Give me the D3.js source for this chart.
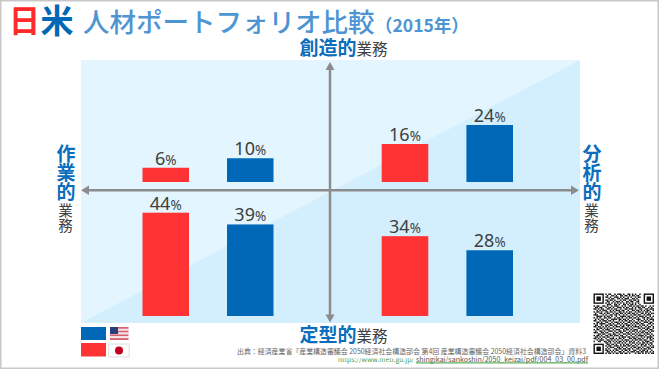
<!DOCTYPE html>
<html><head><meta charset="utf-8">
<script src="https://cdnjs.cloudflare.com/ajax/libs/d3/7.8.5/d3.min.js"></script>
<style>html,body{margin:0;padding:0;background:#fff}svg{display:block}
text{font-family:"Noto Sans CJK JP","Noto Sans",sans-serif}</style></head><body>
<svg id="c" width="660" height="370"></svg>
<script>
const sides = ["作業的", "分析的"];
const countries = ["日本", "米国"];
const creativeLeft = [6, 10];
const creativeRight = [16, 24];
const routineLeft = [44, 39];
const routineRight = [34, 28];
const tickSuffix = "%";
const RED="#ff3333", BLUE="#0068b7", GRAY="#8c8c8c", TEXT="#404040", LBL="#0a6ebd";
const svg=d3.select("#c");
svg.append("rect").attr("x",.75).attr("y",.75).attr("width",657.5).attr("height",367.5).attr("fill","#fff").attr("stroke","#c8c8c8").attr("stroke-width",1.5);
svg.append("rect").attr("x",81).attr("y",60).attr("width",499).attr("height",263).attr("fill","#e3f5fe");
svg.append("path").attr("d","M81,323L580,60V323Z").attr("fill","#d3effe");

const yUp=d3.scaleLinear().domain([0,24]).range([182,125]);
const yDown=d3.scaleLinear().domain([0,44]).range([316,212.7]);
const xL=d3.scaleBand().domain(countries).range([142.5,273.5]).paddingInner(0.45);
const xR=d3.scaleBand().domain(countries).range([381.7,513]).paddingInner(0.45);
const color=d3.scaleOrdinal().domain(countries).range([RED,BLUE]);
function bars(vals,x,y){
  const g=svg.append("g");
  countries.forEach((c,i)=>{
    const v=vals[i];
    g.append("rect").attr("x",x(c)).attr("y",y(v)).attr("width",x.bandwidth()).attr("height",y(0)-y(v)).attr("fill",color(c));
    const t=g.append("text").attr("x",x(c)+x.bandwidth()/2).attr("y",y(v)-3).attr("text-anchor","middle").attr("fill",TEXT).attr("font-size",18).style("font-family","'Noto Sans',sans-serif");
    t.append("tspan").text(v);
    t.append("tspan").attr("font-size",13.5).text(tickSuffix);
  });
}
bars(creativeLeft,xL,yUp);bars(creativeRight,xR,yUp);bars(routineLeft,xL,yDown);bars(routineRight,xR,yDown);

const ln=d3.line();
svg.append("path").attr("d",ln([[86,190.3],[575,190.3]])).attr("stroke",GRAY).attr("stroke-width",2.5);
svg.append("path").attr("d",ln([[330,66],[330,318]])).attr("stroke",GRAY).attr("stroke-width",2.5);
[[[81,190.3],[89,185.5],[89,195]],[[579,190.3],[571,185.5],[571,195]],[[330,62],[325.5,70],[334.5,70]],[[330,322.5],[325.5,314.5],[334.5,314.5]]]
 .forEach(p=>svg.append("path").attr("d",ln(p)+"Z").attr("fill",GRAY));

// title
svg.append("text").attr("x",9).attr("y",32).attr("font-size",31).attr("font-weight",700).attr("fill","#ff2a2a").text("日");
svg.append("text").attr("x",40.5).attr("y",32.5).attr("font-size",33).attr("font-weight",700).attr("fill",BLUE).text("米");
svg.append("text").attr("x",83).attr("y",32).attr("font-size",26.5).attr("font-weight",500).attr("fill","#4d94d2").text("人材ポートフォリオ比較");
svg.append("text").attr("x",375).attr("y",32).attr("font-size",17.5).attr("font-weight",700).attr("fill","#4d94d2").text("（2015年）");

function hlabel(cx,y,a){
  const t=svg.append("text").attr("x",cx).attr("y",y).attr("text-anchor","middle");
  t.append("tspan").attr("font-size",19).attr("font-weight",700).attr("fill",LBL).text(a);
  t.append("tspan").attr("font-size",15.5).attr("fill",TEXT).text("業務");
}
hlabel(343.5,55,"創造的");
hlabel(343.5,342,"定型的");
function vlabel(cx,a){
  [...a].forEach((ch,i)=>svg.append("text").attr("x",cx).attr("y",160.5+i*19.2).attr("text-anchor","middle").attr("font-size",19).attr("font-weight",700).attr("fill",LBL).text(ch));
  ["業","務"].forEach((ch,i)=>svg.append("text").attr("x",cx-.5).attr("y",216+i*15).attr("text-anchor","middle").attr("font-size",14.5).attr("fill",TEXT).text(ch));
}
vlabel(66,sides[0]);
vlabel(592,sides[1]);

// legend
svg.append("rect").attr("x",81).attr("y",327).attr("width",25).attr("height",13).attr("fill",BLUE);
svg.append("rect").attr("x",81).attr("y",343).attr("width",25).attr("height",13.5).attr("fill",RED);
const fx=110,fy=327,fw=18.5,fh=13;
d3.range(7).forEach(i=>svg.append("rect").attr("x",fx).attr("y",fy+i*fh/7).attr("width",fw).attr("height",fh/7).attr("fill",i%2?"#f3e6ea":"#d8606f"));
svg.append("rect").attr("x",fx).attr("y",fy).attr("width",8).attr("height",7).attr("fill","#2a3f7a");
svg.append("rect").attr("x",108.7).attr("y",344).attr("width",20.5).attr("height",13).attr("fill","#fff").attr("stroke","#ddd");
svg.append("circle").attr("cx",119).attr("cy",350.5).attr("r",4).attr("fill","#c4001f");

// footnote
svg.append("text").attr("x",237).attr("y",354).attr("font-size",7.4).attr("fill","#666").attr("textLength",349).attr("lengthAdjust","spacingAndGlyphs").text("出典：経済産業省「産業構造審議会 2050経済社会構造部会 第4回 産業構造審議会 2050経済社会構造部会」資料3");
svg.append("text").attr("x",338).attr("y",361.5).attr("font-size",7.05).attr("fill","#4b9a4b").attr("textLength",76).attr("lengthAdjust","spacingAndGlyphs").text("https://www.meti.go.jp/");
svg.append("rect").attr("x",336).attr("y",355.5).attr("width",80).attr("height",3).attr("fill","#fff");
svg.append("text").attr("x",416).attr("y",361.5).attr("font-size",7.05).attr("fill","#555").attr("textLength",172).attr("lengthAdjust","spacingAndGlyphs").text("shingikai/sankoshin/2050_keizai/pdf/004_03_00.pdf");
svg.append("path").attr("d",ln([[416,362.8],[588,362.8]])).attr("stroke","#5fb35f").attr("stroke-width",1.2);

// QR-style decoration
const qrRows=[
"00000000101100101110100110101001000000000","00000000010011010011011010110110000000000","00000000110100111010100101001011000000000",
"00000000001011001101011100110100000000000","00000000110110100010110011011010000000000","00000000011001011101001101100110000000000",
"00000000101010101010101010101010000000000","00000000011100110100110101101001000000000","10110011010010111001010011010110110100101",
"01101100101101001110101100101011011001010","11010110011010110010011011101001100110111","00101011100101011101100100110110101011001",
"10110100110110100110101011001011010110100","01001101011001011011010110110100110101011","11100010100110110100101001011011001011100",
"00111101011010010011110110100101110100101","10101001101100101101001011011010011011010","01010110010011110110110100100111001010111",
"11001011101101000101011011010010110101001","00110100110010111010100110101101001110110","10101111001101001101011001010110110001101",
"01100100110110110010101110101001011010010","11011010101001011101100101011110100101101","00101101010110100011011010100011011011001",
"10110010111001011100101101011100100110110","01001101001110100110110010110101011001011","11100110110001011011001101001010110110100",
"00011011001101100100110110110101001011010","10110100110110111011001001001011110100101","01101011011001000101110110110100101011110",
"11010100100111010110100011011011010010101","00101110011010101001011100101101101100110","10011001101101010110101011010010010111001",
"00000000110100101101010010110101011010110","00000000011011010010101101001010110101010","00000000101100111010110110110100101100101",
"00000000010111001101001001011011010011011","00000000101000110110110110100110101101100","00000000110101011001011010011001011010010",
"00000000011010100110100101110110110110101","00000000101101011011011010001011010101011"];
const qx=d3.scaleBand().domain(d3.range(41)).range([593.5,654]);
const qy=d3.scaleBand().domain(d3.range(41)).range([293.5,354]);
const qg=svg.append("g").style("filter","blur(0.35px)");
qrRows.forEach((r,j)=>[...r].forEach((c,i)=>{if(c==="1")qg.append("rect").attr("x",qx(i)).attr("y",qy(j)).attr("width",qx.bandwidth()).attr("height",qy.bandwidth()).attr("fill","#111");}));
const finders=[[0,0],[34,0],[0,34]];
finders.forEach(([a,b])=>{
  qg.append("rect").attr("x",qx(a)+.7).attr("y",qy(b)+.7).attr("width",qx.step()*7-1.4).attr("height",qy.step()*7-1.4).attr("fill","none").attr("stroke","#111").attr("stroke-width",1.4);
  qg.append("rect").attr("x",qx(a+2)).attr("y",qy(b+2)).attr("width",qx.step()*3).attr("height",qy.step()*3).attr("fill","#111");
});
</script></body></html>
